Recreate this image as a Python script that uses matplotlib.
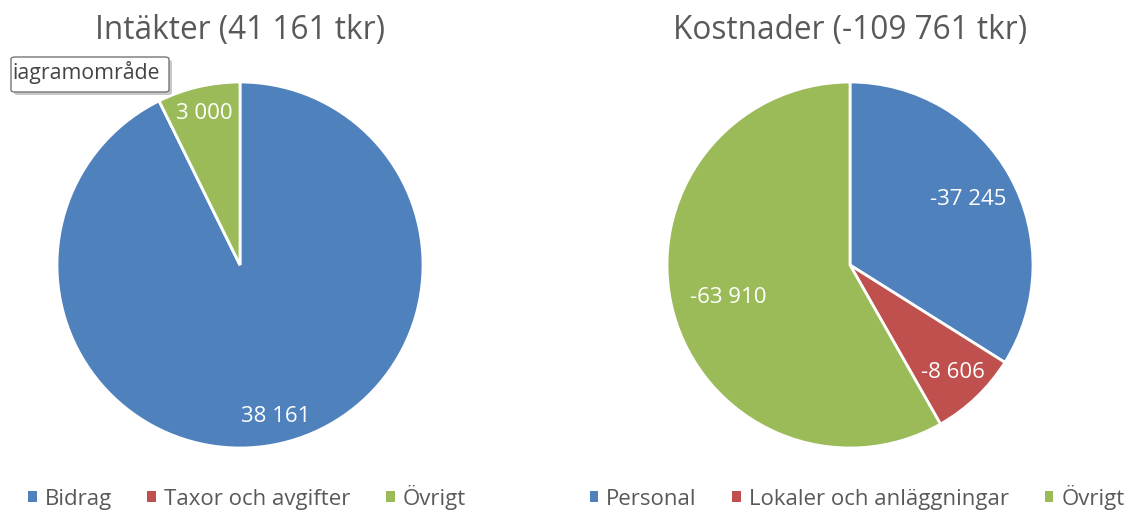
import matplotlib
matplotlib.use("Agg")
import matplotlib.pyplot as plt
from matplotlib.patches import Patch, FancyBboxPatch
import numpy as np

plt.rcParams['font.family'] = ['Open Sans', 'DejaVu Sans']

# Data
inc_title = "Intäkter (41 161 tkr)"
inc_labels = ["Bidrag", "Taxor och avgifter", "Övrigt"]
inc_values = [38161, 0, 3000]
inc_text = ["38 161", "", "3 000"]

cost_title = "Kostnader (-109 761 tkr)"
cost_labels = ["Personal", "Lokaler och anläggningar", "Övrigt"]
cost_values = [-37245, -8606, -63910]
cost_text = ["-37 245", "-8 606", "-63 910"]

colors = ["#4F81BD", "#C0504D", "#9BBB59"]
inc_lab_r = [0.85, 0.85, 0.85]
cost_lab_r = [0.74, 0.81, 0.69]

W, H = 1133, 511
fig = plt.figure(figsize=(W / 100, H / 100), dpi=100)
fig.patch.set_facecolor("white")


def draw(cx, cy, r, values, texts, labrs, title, labels, leg_cx):
    ax = fig.add_axes([(cx - r) / W, (H - cy - r) / H, 2 * r / W, 2 * r / H])
    vals = np.abs(np.array(values, dtype=float))
    wedges, _ = ax.pie(vals, colors=colors, startangle=90, counterclock=False,
                       radius=1.0, wedgeprops=dict(edgecolor="white", linewidth=2))
    total = vals.sum()
    cum = 0.0
    for v, t, lr in zip(vals, texts, labrs):
        if v > 0:
            mid = cum + v / 2
            ang = np.deg2rad(90 - 360 * mid / total)
            ax.text(lr * np.cos(ang), lr * np.sin(ang), t, color="white",
                    fontsize=16, ha="center", va="center")
        cum += v
    ax.set_xlim(-1, 1)
    ax.set_ylim(-1, 1)
    ax.set_aspect("equal")
    ax.axis("off")
    fig.text(cx / W, 1 - 30 / H, title, ha="center", va="center",
             fontsize=22.7, color="#595959")
    handles = [Patch(facecolor=c, edgecolor="none") for c in colors]
    fig.legend(handles, labels, loc="center", bbox_to_anchor=(leg_cx / W, 1 - 497 / H),
               ncol=3, frameon=False, fontsize=16, handlelength=0.4, handleheight=0.4,
               handletextpad=0.35, columnspacing=1.6, labelcolor="#595959")


draw(240, 265, 183, inc_values, inc_text, inc_lab_r, inc_title, inc_labels, 247)
draw(850, 265, 183, cost_values, cost_text, cost_lab_r, cost_title, cost_labels, 857)

# tooltip
shadow = FancyBboxPatch((14 / W, 1 - 95 / H), 158 / W, 35 / H,
                        boxstyle="round,pad=0,rounding_size=0.004",
                        transform=fig.transFigure, facecolor="#C8C8C8", edgecolor="none",
                        zorder=9)
fig.patches.append(shadow)
box = FancyBboxPatch((11 / W, 1 - 92 / H), 158 / W, 35 / H,
                     boxstyle="round,pad=0,rounding_size=0.004",
                     transform=fig.transFigure, facecolor="white", edgecolor="#767676",
                     linewidth=1, zorder=10)
fig.patches.append(box)
fig.text(12 / W, 1 - 73 / H, "iagramområde", ha="left", va="center", fontsize=15.3,
         color="#444444", zorder=11)

fig.savefig("out.png", dpi=100, facecolor="white")
